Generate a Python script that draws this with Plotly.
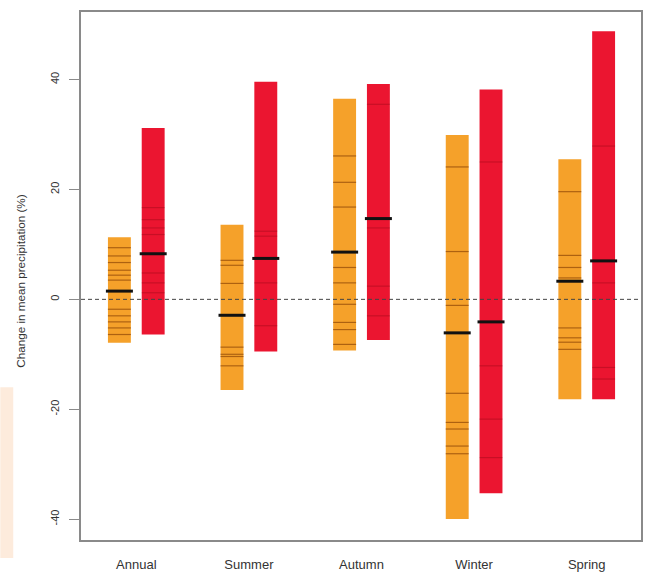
import plotly.graph_objects as go

# Seasons on the x axis
seasons = ["Annual", "Summer", "Autumn", "Winter", "Spring"]

# Y axis ticks
y_ticks = [-40, -20, 0, 20, 40]
y_tick_text = ["-40", "-20", "0", "20", "40"]

# Moderate-emissions ensemble: range, median and individual model values (%)
moderate_min = [-7.9, -16.5, -9.3, -40.0, -18.2]
moderate_max = [11.3, 13.6, 36.5, 29.9, 25.5]
moderate_median = [1.5, -2.9, 8.6, -6.1, 3.3]
moderate_models = [
    [9.4, 7.9, 6.7, 5.3, 4.4, 3.5, -1.8, -3.0, -4.1, -5.2, -6.4],
    [7.1, 6.2, 2.9, -8.7, -10.0, -10.4, -12.1],
    [26.1, 21.3, 16.8, 5.8, 3.0, -0.9, -4.2, -5.5, -8.2],
    [24.1, 8.7, -1.1, -17.1, -22.4, -23.6, -26.7, -28.1],
    [19.6, 8.0, 5.8, 3.9, -5.2, -7.0, -7.8, -9.1],
]

# High-emissions ensemble
high_min = [-6.4, -9.5, -7.4, -35.3, -18.2]
high_max = [31.2, 39.6, 39.2, 38.2, 48.8]
high_median = [8.3, 7.45, 14.7, -4.1, 7.0]
high_models = [
    [16.7, 14.5, 13.0, 11.8, 4.8, 3.0, 1.2],
    [12.4, 11.5, 3.0, -4.8],
    [35.5, 13.0, 2.4, -3.0],
    [25.0, -12.1, -21.8, -28.8],
    [27.9, 3.0, -12.4, -14.5],
]

ORANGE = "#F5A12A"
RED = "#EB1530"
BAR_W = 0.2035
OFFSET = 0.15
# line-ew markers are drawn 1.4x their nominal size
SEG_SIZE = 23 / 1.4
MED_SIZE = 27 / 1.4

groups = [
    (-OFFSET, moderate_min, moderate_max, moderate_median, moderate_models, ORANGE,
     "rgba(125,55,0,0.6)"),
    (OFFSET, high_min, high_max, high_median, high_models, RED,
     "rgba(110,0,10,0.28)"),
]

fig = go.Figure()

for off, lo, hi, med, models, color, line_col in groups:
    xs = [i + 1 + off for i in range(len(seasons))]
    fig.add_trace(go.Bar(
        x=xs, y=[h - l for l, h in zip(lo, hi)], base=lo, width=BAR_W,
        marker=dict(color=color, line=dict(width=0)), showlegend=False,
        hoverinfo="skip",
    ))
    mx, my = [], []
    for i, vals in enumerate(models):
        for v in vals:
            mx.append(i + 1 + off)
            my.append(v)
    fig.add_trace(go.Scatter(
        x=mx, y=my, mode="markers", showlegend=False, hoverinfo="skip",
        marker=dict(symbol="line-ew", size=SEG_SIZE,
                    line=dict(color=line_col, width=1.2)),
    ))
    fig.add_trace(go.Scatter(
        x=xs, y=med, mode="markers", showlegend=False, hoverinfo="skip",
        marker=dict(symbol="line-ew", size=MED_SIZE,
                    line=dict(color="#111111", width=3)),
    ))

# zero reference line
fig.add_shape(type="line", xref="paper", yref="y", x0=0, x1=1, y0=0, y1=0,
              line=dict(color="#444444", width=1, dash="4px,3px"), layer="above")

# pale panel at the lower left edge
fig.add_shape(type="rect", xref="paper", yref="paper",
              x0=-0.1441, x1=-0.121, y0=-0.034, y1=0.2895,
              fillcolor="#FDEBDC", line=dict(width=0), layer="below")

FAMILY = "Liberation Sans, Arial, sans-serif"
tick_font = dict(family=FAMILY, size=11, color="#333333")
x_font = dict(family=FAMILY, size=13, color="#333333")
title_font = dict(family=FAMILY, size=11.7, color="#333333")

fig.add_annotation(
    text="Change in mean precipitation (%)", textangle=-90,
    xref="paper", yref="paper", x=-0.108, y=0.49,
    xanchor="center", yanchor="middle", showarrow=False, font=title_font,
)

fig.update_layout(
    width=647, height=576,
    margin=dict(l=81, r=4, t=12, b=35),
    paper_bgcolor="white", plot_bgcolor="white",
    barmode="overlay", font=tick_font, showlegend=False,
    xaxis=dict(
        range=[0.509, 5.482], tickmode="array",
        tickvals=list(range(1, len(seasons) + 1)), ticktext=seasons,
        ticks="", showgrid=False, zeroline=False,
        showline=True, linecolor="#8a8a8a", linewidth=1.5, mirror=True,
        ticklabelstandoff=12, tickfont=x_font,
    ),
    yaxis=dict(
        range=[-43.8, 52.3], tickmode="array",
        tickvals=y_ticks, ticktext=y_tick_text,
        ticks="outside", ticklen=10, tickcolor="#8a8a8a", tickwidth=1.2,
        tickangle=-90, showgrid=False, zeroline=False,
        showline=True, linecolor="#8a8a8a", linewidth=1.5, mirror=True,
        ticklabelstandoff=6, tickfont=tick_font,
    ),
)

fig.write_html("out.html")
